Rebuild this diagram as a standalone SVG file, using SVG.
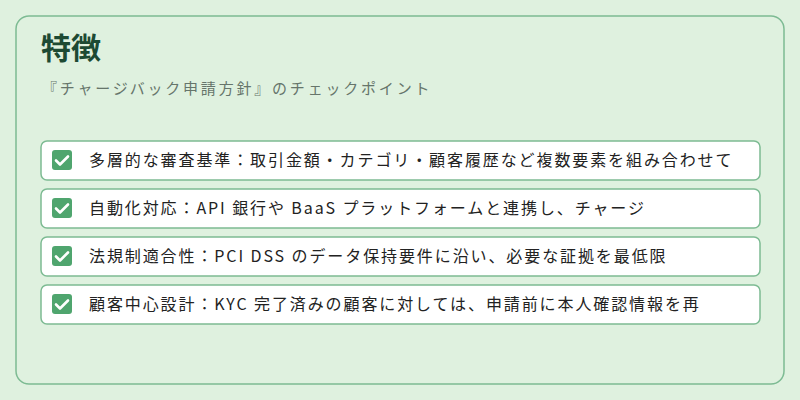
<svg xmlns="http://www.w3.org/2000/svg" width="800" height="400" viewBox="0 0 800 400">
<style>
.row{fill:#fff;stroke:#7dbb93;stroke-width:1.5}
.cb{fill:#4fa56e}
.tick{fill:none;stroke:#fff;stroke-width:2.6;stroke-linecap:round;stroke-linejoin:round}
.t{font-family:"Noto Sans CJK JP","Noto Sans",sans-serif;font-size:16px;fill:#222;letter-spacing:1.9px}
</style>
<rect width="800" height="400" fill="#dff1df"/>
<rect x="16" y="16" width="768" height="368" rx="13" fill="#dff1df" stroke="#7dbb93" stroke-width="1.5"/>
<text x="41" y="59" font-family="Noto Sans CJK JP,sans-serif" font-size="30" font-weight="bold" fill="#1d4a33">特徴</text>
<text x="42" y="94" font-family="Noto Sans CJK JP,sans-serif" font-size="15" fill="#66756b" letter-spacing="2.8">『チャージバック申請方針』のチェックポイント</text>
<g id="n1"><rect class="row" x="41" y="141" width="719" height="39" rx="6"/><rect class="cb" x="52" y="150" width="20" height="20" rx="3"/><path class="tick" d="M56 160.5l4 4 8-8"/><text class="t" x="89" y="166">多層的な審査基準：取引金額・カテゴリ・顧客履歴など複数要素を組み合わせて</text></g>
<g id="n2"><rect class="row" x="41" y="189" width="719" height="39" rx="6"/><rect class="cb" x="52" y="198" width="20" height="20" rx="3"/><path class="tick" d="M56 208.5l4 4 8-8"/><text class="t" x="89" y="214">自動化対応：API 銀行や BaaS プラットフォームと連携し、チャージ</text></g>
<g id="n3"><rect class="row" x="41" y="237" width="719" height="39" rx="6"/><rect class="cb" x="52" y="246" width="20" height="20" rx="3"/><path class="tick" d="M56 256.5l4 4 8-8"/><text class="t" x="89" y="262">法規制適合性：PCI DSS のデータ保持要件に沿い、必要な証拠を最低限</text></g>
<g id="n4"><rect class="row" x="41" y="285" width="719" height="39" rx="6"/><rect class="cb" x="52" y="294" width="20" height="20" rx="3"/><path class="tick" d="M56 304.5l4 4 8-8"/><text class="t" x="89" y="310">顧客中心設計：KYC 完了済みの顧客に対しては、申請前に本人確認情報を再</text></g>
<g id="connectors"/>
</svg>
